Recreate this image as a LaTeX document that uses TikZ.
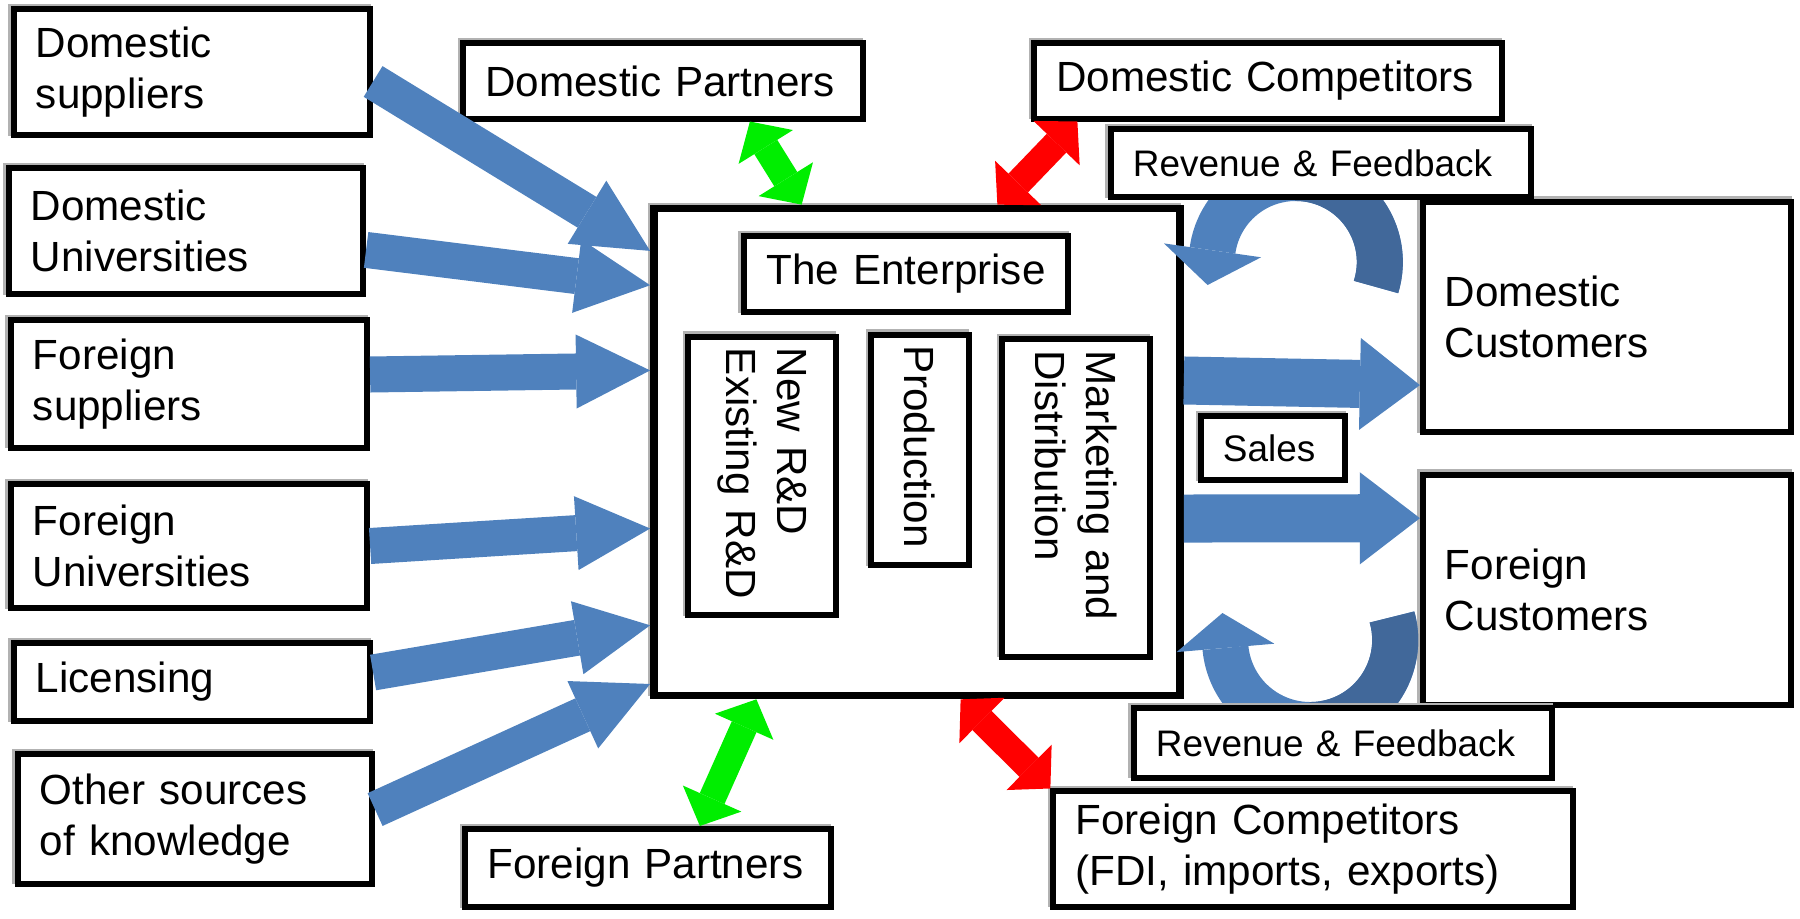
\documentclass[tikz,border=0pt]{standalone}
\usepackage{fontspec}
\setmainfont{Liberation Sans}
\usetikzlibrary{arrows.meta}
\definecolor{flowblue}{HTML}{4F81BD}
\definecolor{flowdark}{HTML}{41689A}
\definecolor{partgreen}{HTML}{00EE00}
\definecolor{compred}{HTML}{FF0000}
\tikzset{
  box/.style={draw, line width=1.7pt, fill=white, align=left, inner xsep=0.22cm, inner ysep=0pt,
    font=\fontsize{12}{14.4}\selectfont,
    preaction={draw=gray!60, line width=1.7pt, transform canvas={xshift=-0.7pt, yshift=0.7pt}}},
  smallbox/.style={box, font=\fontsize{10.5}{12.6}\selectfont},
  vbox/.style={box, rotate=-90, inner xsep=0.11cm},
  flow/.style={draw=flowblue, line width=0.36cm, -{Triangle[width=0.74cm, length=0.74cm, line width=0pt]}},
  sale/.style={draw=flowblue, line width=0.48cm, -{Triangle[width=0.92cm, length=0.6cm, line width=0pt]}},
  link/.style={line width=0.27cm, {Triangle[width=0.64cm, length=0.3cm, line width=0pt]}-{Triangle[width=0.64cm, length=0.3cm, line width=0pt]}},
  curl/.style={draw=flowblue, line width=0.46cm, -{Triangle[width=0.98cm, length=0.35cm, line width=0pt]}},
  curlback/.style={draw=flowdark, line width=0.46cm}
}
\begin{document}
\begin{tikzpicture}[x=0.01cm, y=-0.01cm]
  \useasboundingbox (0,0) rectangle (1800,919);
  % sources of knowledge
  \node[box, minimum width=3.56cm, text width=3.12cm, minimum height=1.26cm] (ds) at (192,72) {Domestic\\suppliers};
  \node[box, minimum width=3.54cm, text width=3.10cm, minimum height=1.26cm] (du) at (186,231) {Domestic\\Universities};
  \node[box, minimum width=3.56cm, text width=3.12cm, minimum height=1.27cm] (fs) at (189,384) {Foreign\\suppliers};
  \node[box, minimum width=3.56cm, text width=3.12cm, minimum height=1.24cm] (fu) at (189,546) {Foreign\\Universities};
  \node[box, minimum width=3.56cm, text width=3.12cm, minimum height=0.78cm] (lic) at (192,682) {Licensing};
  \node[box, minimum width=3.54cm, text width=3.10cm, minimum height=1.29cm] (oth) at (195,819) {Other sources\\of knowledge};
  % partners and competitors
  \node[box, text width=3.55cm, minimum height=0.75cm] (dp) at (663,81) {Domestic Partners};
  \node[box, text width=3.21cm, minimum height=0.78cm] (fp) at (648,868) {Foreign Partners};
  \node[box, text width=4.23cm, minimum height=0.75cm] (dcomp) at (1268,81) {Domestic Competitors};
  \node[box, text width=4.75cm, minimum height=1.15cm] (fcomp) at (1313,849) {Foreign Competitors\\(FDI, imports, exports)};
  % the enterprise
  \node[box, line width=2.1pt, minimum width=5.26cm, minimum height=4.87cm] (ent) at (917,452) {};
  \node[box, align=center, text width=2.80cm, minimum height=0.76cm] (title) at (906,274) {The Enterprise};
  \node[vbox, text width=2.56cm, minimum height=1.47cm] (rd) at (762,476) {New R\&D\\Existing R\&D};
  \node[vbox, text width=2.08cm, minimum height=0.97cm] (prod) at (920,450) {Production};
  \node[vbox, text width=2.95cm, minimum height=1.47cm] (mkt) at (1076,498) {Marketing and\\Distribution};
  % customers
  \node[box, text width=3.24cm, minimum height=2.30cm] (dcust) at (1607,317) {Domestic\\Customers};
  \node[box, text width=3.24cm, minimum height=2.30cm] (fcust) at (1607,590) {Foreign\\Customers};
  \node[smallbox, text width=1.00cm, minimum height=0.64cm] (sales) at (1273,448) {Sales};
  % revenue loops
  \coordinate (tail1) at (1376,287);
  \coordinate (tail2) at (1392,617);
  \draw[curl] (tail1) arc[start angle=-17.3, end angle=171.8, radius=0.84cm] -- ++(-5,35);
  \draw[curlback] (tail1) arc[start angle=-17.3, end angle=90, radius=0.84cm];
  \draw[curl] (tail2) arc[start angle=15.7, end angle=-174.6, radius=0.85cm] -- ++(-3,-35);
  \draw[curlback] (tail2) arc[start angle=15.7, end angle=-90, radius=0.85cm];
  \node[smallbox, text width=3.76cm, minimum height=0.68cm] (rev1) at (1321,163) {Revenue \& Feedback};
  \node[smallbox, text width=3.74cm, minimum height=0.69cm] (rev2) at (1343,743) {Revenue \& Feedback};
  % knowledge flows
  \draw[flow] (ds.-3) -- (ent.143.6);
  \draw[flow] (du.-6) -- (ent.148);
  \draw[flow] (fs.3) -- (ent.163.5);
  \draw[flow] (fu.0) -- (ent.196.5);
  \draw[flow] (lic.3) -- (ent.213.3);
  \draw[flow] (oth.3) -- (ent.221.8);
  \draw[sale] (ent.15.5) -- (dcust.200);
  \draw[sale] (ent.-14.3) -- (fcust.159);
  \draw[link, draw=partgreen, fill=partgreen] (dp.-25) -- (ent.115);
  \draw[link, draw=partgreen, fill=partgreen] (ent.237) -- (fp.39);
  \draw[link, draw=compred, fill=compred] (dcomp.192) -- (ent.72);
  \draw[link, draw=compred, fill=compred] (ent.-80) -- (fcomp.north west);
\end{tikzpicture}
\end{document}
